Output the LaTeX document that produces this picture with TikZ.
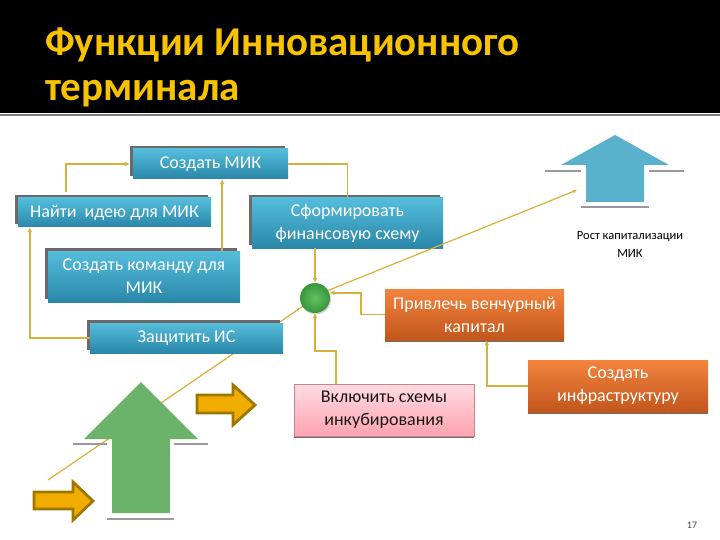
\documentclass[tikz,border=0pt]{standalone}
\usepackage{fontspec}
\setmainfont{Carlito}
\usetikzlibrary{arrows.meta,calc,shadows}
\definecolor{titlegold}{HTML}{F7C300}
\definecolor{tealtop}{HTML}{55BDDB}
\definecolor{tealbot}{HTML}{2A87AA}
\definecolor{orgtop}{HTML}{F3843F}
\definecolor{orgbot}{HTML}{C2561B}
\definecolor{pinktop}{HTML}{FFDCE2}
\definecolor{pinkbot}{HTML}{FFA2B0}
\definecolor{conngold}{HTML}{D8B13A}
\definecolor{bigGreen}{HTML}{6BB36B}
\definecolor{bigBlue}{HTML}{5AB1CC}
\definecolor{arrFill}{HTML}{F0AC00}
\definecolor{arrEdge}{HTML}{9E7700}
\definecolor{shadowgray}{HTML}{6A6A6A}
\definecolor{ballIn}{HTML}{62C262}
\definecolor{ballOut}{HTML}{38963A}
\pgfdeclarelayer{bg}
\pgfsetlayers{bg,main}
\begin{document}
\begin{tikzpicture}[x=1pt,y=-1pt,
  bbox/.style={draw=none, top color=tealtop, bottom color=tealbot, text=white,
    align=center, inner sep=0pt, font=\fontsize{18}{23}\selectfont,
    general shadow={fill=shadowgray, shadow xshift=-3pt, shadow yshift=3pt}},
  obox/.style={draw=none, top color=orgtop, bottom color=orgbot, text=white,
    align=center, inner sep=0pt, font=\fontsize{18}{23}\selectfont,
    general shadow={fill=shadowgray, shadow xshift=0pt, shadow yshift=-2pt}},
  pbox/.style={draw=pinkbot!80!black, line width=0.4pt, top color=pinktop, bottom color=pinkbot, text=black!90,
    align=center, inner sep=0pt, font=\fontsize{18}{23}\selectfont,
    general shadow={fill=shadowgray, shadow xshift=0pt, shadow yshift=-2pt}},
  conn/.style={draw=conngold, line width=1.8pt, -{Latex[length=5pt,width=5pt]}},
  plainconn/.style={draw=conngold, line width=1.8pt},
  thinconn/.style={draw=conngold, line width=1.2pt},
  grayline/.style={draw=black!40, line width=2pt},
  oarrow/.style={fill=arrFill, draw=arrEdge, line width=2.8pt, line join=miter}
]
\useasboundingbox (0,0) rectangle (720,540);

% coordinates of free ends
\coordinate (blueend) at (577,190);
\coordinate (llend) at (48,480);

% green circle
\node[circle, minimum size=30pt, inner sep=0pt, draw=none,
  shading=radial, inner color=ballIn, outer color=ballOut,
  drop shadow={fill=black!35, shadow xshift=1pt, shadow yshift=-1.5pt}] (circ) at (315,298) {};

% background and the line behind everything
\begin{pgfonlayer}{bg}
\fill[white] (0,0) rectangle (720,540);
\draw[thinconn] (llend) -- (circ.center);
\end{pgfonlayer}

% title band
\fill[black] (0,0) rectangle (720,113);
\draw[black!50, line width=2pt] (0,115.5) -- (720,115.5);
\node[anchor=base west, inner sep=0pt, text=titlegold, font=\fontsize{41}{41}\selectfont\bfseries] (t1) at (45,56) {Функции Инновационного};
\node[anchor=base west, inner sep=0pt, text=titlegold, font=\fontsize{41}{41}\selectfont\bfseries] (t2) at (45,101) {терминала};

% big green arrow
\fill[bigGreen] (141,382) -- (198,439) -- (170,439) -- (170,513) -- (112,513) -- (112,439) -- (84,439) -- cycle;
\draw[grayline] (73,444) -- (107,444);
\draw[grayline] (174,444) -- (208,444);
\draw[grayline] (107,519) -- (174,519);

% big blue arrow
\fill[bigBlue] (615,135) -- (669,165) -- (644,165) -- (644,202) -- (586,202) -- (586,165) -- (561,165) -- cycle;
\draw[grayline] (545,171) -- (581,171);
\draw[grayline] (649,171) -- (684,171);
\draw[grayline] (581,207) -- (649,207);

% small orange arrows
\draw[oarrow] (197,395) -- (233,395) -- (233,385) -- (255,405) -- (233,425) -- (233,413) -- (197,413) -- cycle;
\draw[oarrow] (34,492) -- (73,492) -- (73,482) -- (93,501) -- (73,520) -- (73,509) -- (34,509) -- cycle;

% boxes
\node[bbox, minimum width=155pt, minimum height=30pt] (mik) at (210.5,164) {Создать МИК};
\node[bbox, minimum width=193pt, minimum height=29pt] (naiti) at (114.5,212.5) {Найти\ \ идею для МИК};
\node[bbox, minimum width=191pt, minimum height=50pt] (sform) at (347.5,223) {Сформировать\\финансовую схему};
\node[bbox, minimum width=192pt, minimum height=51pt] (komanda) at (144,276.5) {Создать команду для\\МИК};
\node[bbox, minimum width=193pt, minimum height=30pt] (zashch) at (186.5,338) {Защитить ИС};
\node[obox, minimum width=179pt, minimum height=51pt] (privl) at (474.5,314.5) {Привлечь венчурный\\капитал};
\node[pbox, minimum width=180pt, minimum height=52pt] (vkl) at (384,410) {Включить схемы\\инкубирования};
\node[obox, minimum width=180pt, minimum height=52pt] (infra) at (618,386) {Создать\\инфраструктуру};

% label and page number
\node[align=center, inner sep=0pt, font=\fontsize{12.5}{18}\selectfont] (rost) at (630,244) {Рост капитализации\\МИК};
\node[inner sep=0pt, text=black!75, font=\fontsize{10}{10}\selectfont] (pg) at (692,525) {17};

% connectors
\draw[conn] ($(naiti.north west)+(48,-6)$) |- ($(mik.west)+(-3,0)$);
\draw[plainconn] (mik.east) -| (sform.north);
\draw[conn] ($(komanda.north east)+(-18,0)$) coordinate (k1) -- (k1 |- mik.south);
\draw[conn] (zashch.west) -| ($(naiti.south west)+(12,0)$);
\draw[conn] (circ.north |- sform.south) -- (circ.north);
\draw[conn] (privl.west) -- ++(-24,0) |- (circ.20);
\draw[conn] ($(vkl.north west)+(42,0)$) -- ++(0,-33) -| (circ.south);
\draw[conn] (infra.west) -| ($(privl.south west)+(102,0)$);
\draw[thinconn, -{Latex[length=4pt,width=4pt]}] (circ.30) -- (blueend);
\end{tikzpicture}
\end{document}
